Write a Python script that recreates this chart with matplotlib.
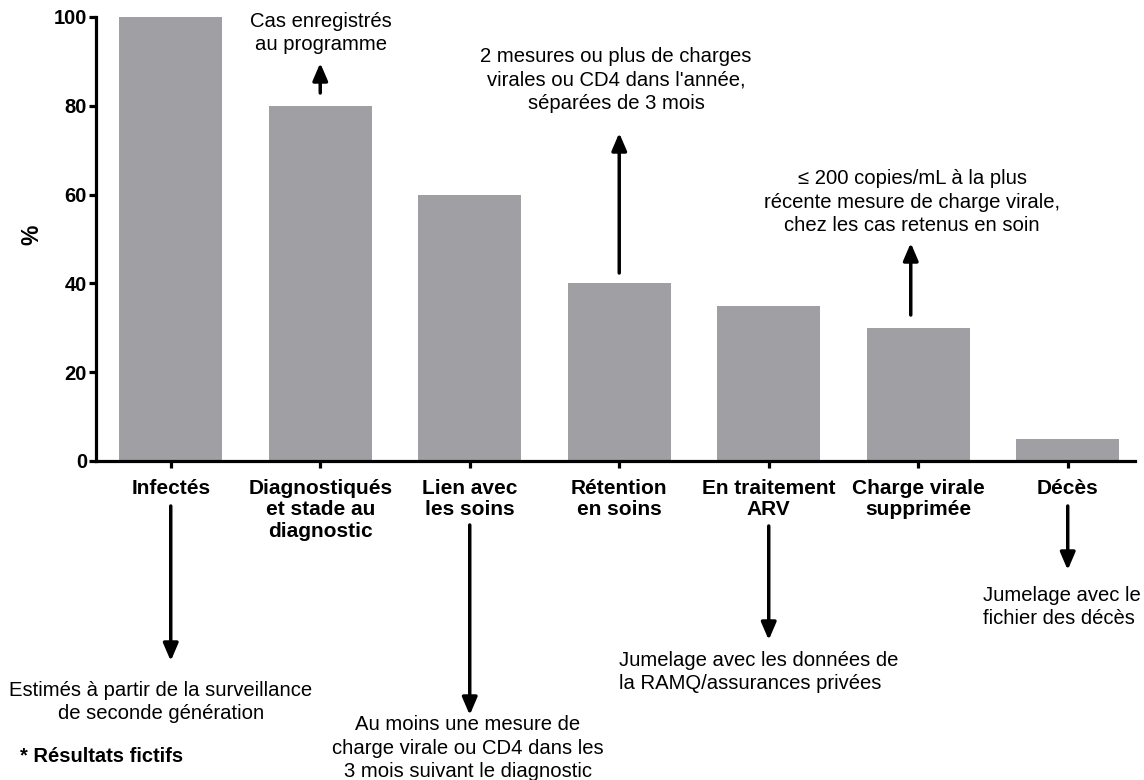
import matplotlib
matplotlib.use("Agg")
import matplotlib.pyplot as plt

plt.rcParams['font.family'] = ['Liberation Sans', 'DejaVu Sans']

# cascade data
etapes = ["Infectés", "Diagnostiqués\net stade au\ndiagnostic", "Lien avec\nles soins",
          "Rétention\nen soins", "En traitement\nARV", "Charge virale\nsupprimée", "Décès"]
pourcent = [100, 80, 60, 40, 35, 30, 5]
yticks = [0, 20, 40, 60, 80, 100]

W, H = 1144, 780
fig = plt.figure(figsize=(W / 100, H / 100), dpi=100)
ax = fig.add_axes([96 / W, 1 - 461 / H, (1135 - 96) / W, (461 - 17) / H])

x = list(range(len(etapes)))
ax.bar(x, pourcent, width=0.69, color='#a09fa4', zorder=1)
ax.set_xlim(-0.5, 6.45)
ax.set_ylim(0, 100)
ax.set_yticks(yticks)
ax.set_xticks(x)
ax.set_xticklabels(etapes, fontweight='bold', fontsize=15, linespacing=1.15)
for lab in ax.get_yticklabels():
    lab.set_fontweight('bold')
    lab.set_fontsize(14.5)
for s in ['top', 'right']:
    ax.spines[s].set_visible(False)
for s in ['left', 'bottom']:
    ax.spines[s].set_linewidth(2.3)
ax.tick_params(width=2.3, length=5, direction='out')
ax.tick_params(axis='x', pad=8)
ax.tick_params(axis='y', pad=1.5)


def fy(py):
    return 1 - py / H


# y axis title
fig.text(32 / W, fy(235), '%', rotation=90, ha='center', va='center',
         fontsize=16.5, fontweight='bold')


def fleche(xd, y0, y1):
    # arrow from pixel row y0 to y1, x in data coords
    ax.annotate('', xy=(xd, fy(y1)), xytext=(xd, fy(y0)),
                xycoords=('data', 'figure fraction'), textcoords=('data', 'figure fraction'),
                arrowprops=dict(arrowstyle='-|>,head_length=1.05,head_width=0.45',
                                lw=2.5, color='black', shrinkA=0, shrinkB=0),
                annotation_clip=False)


def note(px, py, txt, ha='center'):
    fig.text(px / W, fy(py), txt, ha=ha, va='center', fontsize=14.6, linespacing=1.28)


# notes above the bars
fleche(1, 93, 63)
note(321, 33, "Cas enregistrés\nau programme")
fleche(3, 273, 133)
note(616, 80, "2 mesures ou plus de charges\nvirales ou CD4 dans l'année,\nséparées de 3 mois")
fleche(4.95, 315, 243)
note(912, 202, "≤ 200 copies/mL à la plus\nrécente mesure de charge virale,\nchez les cas retenus en soin")

# notes below the axis
fleche(0, 506, 661)
note(161, 702, "Estimés à partir de la surveillance\nde seconde génération")
fleche(2, 525, 715)
note(468, 748, "Au moins une mesure de\ncharge virale ou CD4 dans les\n3 mois suivant le diagnostic")
fleche(4, 526, 640)
note(619, 672, "Jumelage avec les données de\nla RAMQ/assurances privées", ha='left')
fleche(6, 506, 570)
note(983, 607, "Jumelage avec le\nfichier des décès", ha='left')

fig.text(20 / W, fy(756), "* Résultats fictifs", ha='left', va='center',
         fontsize=14.5, fontweight='bold')

fig.savefig('out.png', dpi=100)
